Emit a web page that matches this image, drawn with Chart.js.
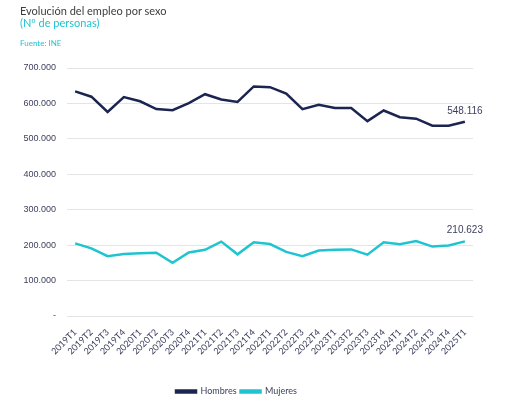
<!DOCTYPE html>
<html>
<head>
<meta charset="utf-8">
<script src="https://cdn.jsdelivr.net/npm/chart.js@4"></script>
<style>
  body { margin: 0; background: #fff; font-family: Lato, "Open Sans", sans-serif; overflow: hidden; }
  #wrap { position: relative; width: 508px; height: 398px; overflow: hidden; }
  .t { position: absolute; left: 20px; white-space: nowrap; }
  #title { top: 4px; font-size: 11px; color: #3d3d3d; }
  #sub { top: 16px; font-size: 11px; color: #22c3d0; }
  #src { top: 38px; font-size: 8px; color: #22c3d0; }
  canvas { position: absolute; left: 0; top: 0; }
</style>
</head>
<body>
<div id="wrap">
  <canvas id="empleoChart" width="508" height="406"></canvas>
  <div class="t" id="title">Evolución del empleo por sexo</div>
  <div class="t" id="sub">(Nº de personas)</div>
  <div class="t" id="src">Fuente: INE</div>
</div>
<script>
// Trimestres
const quarters = ['2019T1','2019T2','2019T3','2019T4','2020T1','2020T2','2020T3','2020T4',
  '2021T1','2021T2','2021T3','2021T4','2022T1','2022T2','2022T3','2022T4',
  '2023T1','2023T2','2023T3','2023T4','2024T1','2024T2','2024T3','2024T4','2025T1'];

// Ocupados (personas)
const hombres = [634000, 619000, 576000, 618000, 606000, 584000, 581000, 601000,
  626000, 611000, 604000, 648000, 646000, 628000, 584000, 596000,
  587000, 587000, 550000, 580000, 561000, 557000, 537000, 537000, 548116];
const mujeres = [205000, 191000, 169000, 175000, 177000, 178500, 150000, 179500,
  187000, 210000, 174000, 208000, 203000, 181000, 169000, 185000,
  187000, 188000, 173000, 208000, 202500, 211500, 196000, 199000, 210623];

const yTicks = [0, 100000, 200000, 300000, 400000, 500000, 600000, 700000];

const navy = '#1b2550';
const cyan = '#1fc4d1';
const fmt = v => v === 0 ? '-' : new Intl.NumberFormat('de-DE').format(v);

// Etiqueta del último valor de cada serie
const lastLabel = {
  id: 'lastLabel',
  afterDatasetsDraw(chart) {
    const ctx = chart.ctx;
    ctx.save();
    ctx.font = '10px "Liberation Sans", Arial, sans-serif';
    ctx.fillStyle = '#3b3f5c';
    ctx.textAlign = 'center';
    ctx.textBaseline = 'bottom';
    chart.data.datasets.forEach((ds, i) => {
      const pts = chart.getDatasetMeta(i).data;
      const p = pts[pts.length - 1];
      const v = ds.data[ds.data.length - 1];
      ctx.fillText(fmt(v), p.x, p.y - 6);
    });
    ctx.restore();
  }
};

new Chart(document.getElementById('empleoChart'), {
  type: 'line',
  data: {
    labels: quarters,
    datasets: [{
      label: 'Hombres',
      data: hombres,
      borderColor: navy,
      backgroundColor: navy,
      borderWidth: 2.5,
      pointRadius: 0,
      tension: 0
    }, {
      label: 'Mujeres',
      data: mujeres,
      borderColor: cyan,
      backgroundColor: cyan,
      borderWidth: 2.5,
      pointRadius: 0,
      tension: 0
    }]
  },
  options: {
    responsive: false,
    animation: false,
    layout: { padding: { left: 0, right: 35, top: 68, bottom: 0 } },
    scales: {
      x: {
        offset: true,
        grid: { display: false },
        border: { display: false },
        afterFit: axis => { axis.height = 67; },
        ticks: {
          autoSkip: false,
          minRotation: 45,
          maxRotation: 45,
          padding: 3,
          color: '#3b3f5c',
          font: { size: 9, family: 'Lato' }
        }
      },
      y: {
        min: 0,
        max: 700000,
        afterBuildTicks: axis => { axis.ticks = yTicks.map(v => ({ value: v })); },
        afterFit: axis => { axis.width = 67; },
        grid: { color: '#e4e4e4', drawTicks: false },
        border: { display: false },
        ticks: {
          padding: 11,
          color: '#3b3f5c',
          font: { size: 9, family: '"Liberation Sans", Arial, sans-serif' },
          callback: v => fmt(v)
        }
      }
    },
    plugins: {
      legend: {
        position: 'bottom',
        labels: {
          boxWidth: 20,
          boxHeight: 2,
          padding: 4,
          color: '#3b3f5c',
          font: { size: 9, family: 'Lato' }
        }
      },
      tooltip: { enabled: false }
    }
  },
  plugins: [lastLabel]
});
</script>
</body>
</html>
